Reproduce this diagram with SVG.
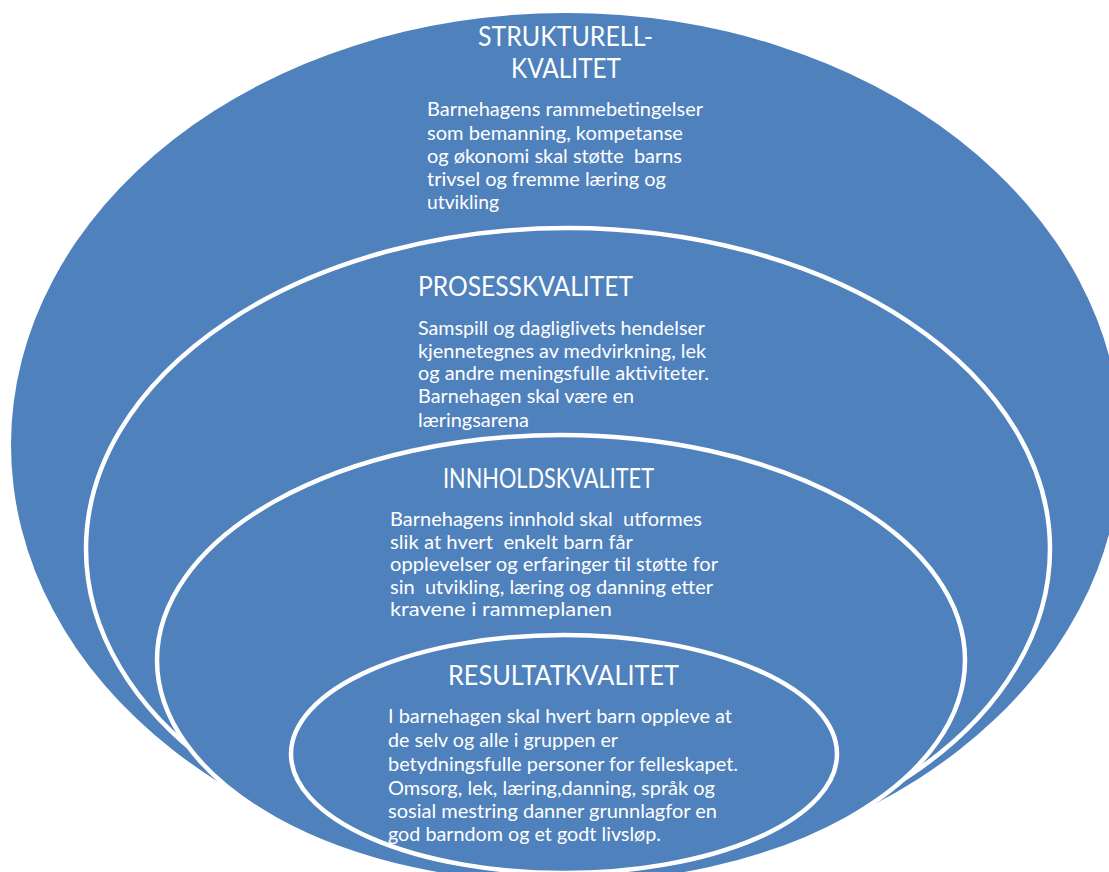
<svg xmlns="http://www.w3.org/2000/svg" width="1109" height="872" viewBox="0 0 1109 872">
<style>
.shape{fill:#4F81BD;stroke:#FFFFFF;stroke-width:4.5}
.outer{fill:#4F81BD;stroke:none}
.title{font-family:Lato,"Open Sans",sans-serif;font-size:26px;fill:#FFFFFF}
.body{font-family:Lato,"Open Sans",sans-serif;font-size:19.5px;fill:#FFFFFF;white-space:pre}
.s20{font-size:20px}
.s185{font-size:18.8px}
</style>
<rect width="1109" height="872" fill="#FFFFFF"/>
<g id="strukturell">
<ellipse class="outer" cx="566" cy="445" rx="555" ry="432"/>
<text class="title" x="478" y="46" textLength="175" lengthAdjust="spacingAndGlyphs">STRUKTURELL-</text>
<text class="title" x="511" y="78" textLength="110" lengthAdjust="spacingAndGlyphs">KVALITET</text>
<text class="body s20" x="427" y="116" xml:space="preserve" textLength="276" lengthAdjust="spacingAndGlyphs">Barnehagens rammebetingelser</text>
<text class="body s20" x="427" y="139.5" xml:space="preserve" textLength="256" lengthAdjust="spacingAndGlyphs">som bemanning, kompetanse</text>
<text class="body s20" x="427" y="163" xml:space="preserve" textLength="255" lengthAdjust="spacingAndGlyphs">og økonomi skal støtte  barns</text>
<text class="body s20" x="427" y="186" xml:space="preserve" textLength="239" lengthAdjust="spacingAndGlyphs">trivsel og fremme læring og</text>
<text class="body s20" x="427" y="209" xml:space="preserve" textLength="72" lengthAdjust="spacingAndGlyphs">utvikling</text>
</g>
<g id="prosess">
<ellipse class="shape" cx="568" cy="549" rx="482" ry="321"/>
<text class="title" x="418" y="296" textLength="215" lengthAdjust="spacingAndGlyphs">PROSESSKVALITET</text>
<text class="body" x="418" y="335" xml:space="preserve" textLength="287" lengthAdjust="spacingAndGlyphs">Samspill og dagliglivets hendelser</text>
<text class="body" x="418" y="357.5" xml:space="preserve" textLength="288" lengthAdjust="spacingAndGlyphs">kjennetegnes av medvirkning, lek</text>
<text class="body" x="418" y="380" xml:space="preserve" textLength="291" lengthAdjust="spacingAndGlyphs">og andre meningsfulle aktiviteter.</text>
<text class="body" x="418" y="403" xml:space="preserve" textLength="216" lengthAdjust="spacingAndGlyphs">Barnehagen skal være en</text>
<text class="body" x="418" y="427" xml:space="preserve" textLength="111" lengthAdjust="spacingAndGlyphs">læringsarena</text>
</g>
<g id="innhold">
<ellipse class="shape" cx="561" cy="660" rx="404" ry="225"/>
<text class="title" x="443" y="488" textLength="211" lengthAdjust="spacingAndGlyphs">INNHOLDSKVALITET</text>
<text class="body" x="390" y="526" xml:space="preserve" textLength="312" lengthAdjust="spacingAndGlyphs">Barnehagens innhold skal  utformes</text>
<text class="body" x="390" y="548.5" xml:space="preserve" textLength="243" lengthAdjust="spacingAndGlyphs">slik at hvert  enkelt barn får</text>
<text class="body" x="390" y="571" xml:space="preserve" textLength="328" lengthAdjust="spacingAndGlyphs">opplevelser og erfaringer til støtte for</text>
<text class="body" x="390" y="593.5" xml:space="preserve" textLength="323" lengthAdjust="spacingAndGlyphs">sin  utvikling, læring og danning etter</text>
<text class="body" x="390" y="616" xml:space="preserve" textLength="222" lengthAdjust="spacingAndGlyphs">kravene i rammeplanen</text>
</g>
<g id="resultat">
<ellipse class="shape" cx="564" cy="754" rx="273" ry="119"/>
<text class="title" x="448" y="685" textLength="231" lengthAdjust="spacingAndGlyphs">RESULTATKVALITET</text>
<text class="body s185" x="388" y="723" xml:space="preserve" textLength="344" lengthAdjust="spacingAndGlyphs">I barnehagen skal hvert barn oppleve at</text>
<text class="body s185" x="388" y="747" xml:space="preserve" textLength="230" lengthAdjust="spacingAndGlyphs">de selv og alle i gruppen er</text>
<text class="body s185" x="388" y="771" xml:space="preserve" textLength="350" lengthAdjust="spacingAndGlyphs">betydningsfulle personer for felleskapet.</text>
<text class="body s185" x="388" y="795" xml:space="preserve" textLength="327" lengthAdjust="spacingAndGlyphs">Omsorg, lek, læring,danning, språk og</text>
<text class="body s185" x="388" y="818" xml:space="preserve" textLength="329" lengthAdjust="spacingAndGlyphs">sosial mestring danner grunnlagfor en</text>
<text class="body s185" x="388" y="841" xml:space="preserve" textLength="273" lengthAdjust="spacingAndGlyphs">god barndom og et godt livsløp.</text>
</g>
<g id="connectors"></g>
</svg>
